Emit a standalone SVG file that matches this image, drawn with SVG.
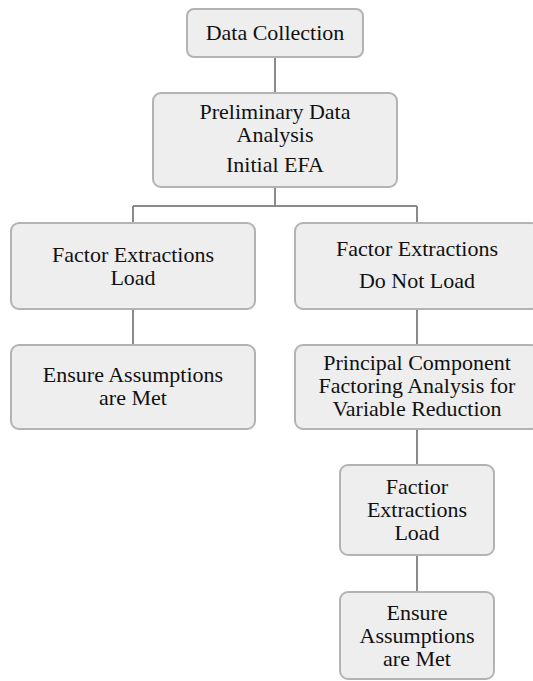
<svg xmlns="http://www.w3.org/2000/svg" width="533" height="681" viewBox="0 0 533 681">
<style>
.box{fill:#eeeeee;stroke:#b3b3b3;stroke-width:2}
.lbl{font-family:"Liberation Serif","Times New Roman",serif;font-size:22px;fill:#111;text-anchor:middle}
.conn{stroke:#8a8a8a;stroke-width:2;fill:none}
</style>
<rect width="533" height="681" fill="#ffffff"/>
<g id="connectors">
<path class="conn" d="M275 57V93M275 187V206M133 206H417M133 206V223M417 206V223M133 309V345M417 309V345M417 429V465M417 555V592"/>
</g>
<g id="n1"><rect class="box" x="187" y="9" width="176" height="48" rx="7"/><text class="lbl" x="275" y="40">Data Collection</text></g>
<g id="n2"><rect class="box" x="153" y="93" width="244" height="94" rx="8"/><text class="lbl" x="275" y="119">Preliminary Data</text><text class="lbl" x="275" y="142">Analysis</text><text class="lbl" x="275" y="172">Initial EFA</text></g>
<g id="n3"><rect class="box" x="11" y="223" width="244" height="86" rx="8"/><text class="lbl" x="133" y="262">Factor Extractions</text><text class="lbl" x="133" y="285">Load</text></g>
<g id="n4"><rect class="box" x="295" y="223" width="244" height="86" rx="8"/><text class="lbl" x="417" y="256">Factor Extractions</text><text class="lbl" x="417" y="288">Do Not Load</text></g>
<g id="n5"><rect class="box" x="11" y="345" width="244" height="84" rx="8"/><text class="lbl" x="133" y="382">Ensure Assumptions</text><text class="lbl" x="133" y="405">are Met</text></g>
<g id="n6"><rect class="box" x="295" y="345" width="244" height="84" rx="8"/><text class="lbl" x="417" y="370">Principal Component</text><text class="lbl" x="417" y="393">Factoring Analysis for</text><text class="lbl" x="417" y="416">Variable Reduction</text></g>
<g id="n7"><rect class="box" x="340" y="465" width="154" height="90" rx="8"/><text class="lbl" x="417" y="494">Factior</text><text class="lbl" x="417" y="517">Extractions</text><text class="lbl" x="417" y="540">Load</text></g>
<g id="n8"><rect class="box" x="340" y="592" width="154" height="87" rx="8"/><text class="lbl" x="417" y="620">Ensure</text><text class="lbl" x="417" y="643">Assumptions</text><text class="lbl" x="417" y="666">are Met</text></g>
</svg>
